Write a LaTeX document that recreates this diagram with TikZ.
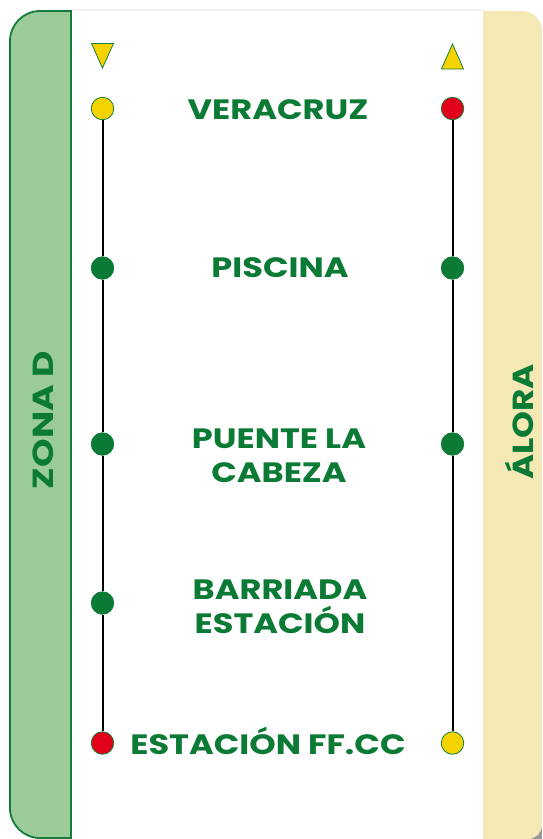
\documentclass[tikz,border=0pt]{standalone}
\usepackage{fontspec}
\setmainfont{Poppins}
\definecolor{dgreen}{RGB}{10,122,53}
\definecolor{lgreen}{RGB}{154,203,152}
\definecolor{pgreen}{RGB}{20,125,60}
\definecolor{beige}{RGB}{244,232,180}
\definecolor{myyellow}{RGB}{245,211,0}
\definecolor{myred}{RGB}{227,0,27}
\definecolor{shadow}{RGB}{150,150,150}
\begin{document}
\begin{tikzpicture}[x=1pt,y=-1pt,
  lbl/.style={text=dgreen,font=\bfseries\fontsize{28}{34}\selectfont,align=center,anchor=base,xscale=1.2},
  stop/.style={circle,draw=pgreen,line width=0.8pt,minimum size=22.5pt,inner sep=0pt},
  tri/.style={draw=pgreen,line width=0.8pt,fill=myyellow,line join=miter},
  side/.style={text=dgreen,font=\bfseries\fontsize{29}{34}\selectfont,rotate=90}]
\useasboundingbox (0,0) rectangle (542,839);
\fill[white] (0,0) rectangle (542,839);
% top shadow line
\fill[black!6] (71,9) rectangle (483,11);
% right panel
\fill[shadow] (510,810) rectangle (542,839);
\fill[beige] (483,11) -- (522,11) arc[start angle=270,end angle=360,radius=20] -- (542,825) arc[start angle=0,end angle=90,radius=14] -- (483,839) -- cycle;
% left panel
\draw[pgreen,fill=lgreen,line width=1.8pt] (71,840) -- (71,11) -- (40,11) arc[start angle=270,end angle=180,radius=30] -- (10,808) arc[start angle=180,end angle=90,radius=30] -- (71,838);
\node[side,xscale=1.25] (zona) at (43,420) {ZONA D};
\node[side,xscale=1.18] (alora) at (519,422) {ÁLORA};
% triangles
\draw[tri] (91.5,43.5) -- (113.5,43.5) -- (102.5,68) -- cycle;
\draw[tri] (441.5,69) -- (463.5,69) -- (452.5,44) -- cycle;
% stops
\node[stop,fill=myyellow] (l1) at (102.5,108.5) {};
\node[stop,fill=dgreen] (l2) at (102.5,268) {};
\node[stop,fill=dgreen] (l3) at (102.5,444) {};
\node[stop,fill=dgreen] (l4) at (102.5,603) {};
\node[stop,fill=myred] (l5) at (102.5,743) {};
\node[stop,fill=myred] (r1) at (452.5,108.5) {};
\node[stop,fill=dgreen] (r2) at (452.5,268) {};
\node[stop,fill=dgreen] (r3) at (452.5,444) {};
\node[stop,fill=myyellow] (r5) at (452.5,743) {};
\draw[black,line width=2pt] (l1.south) -- (l2.north) (l2.south) -- (l3.north) (l3.south) -- (l4.north) (l4.south) -- (l5.north);
\draw[black,line width=2pt] (r1.south) -- (r2.north) (r2.south) -- (r3.north) (r3.south) -- (r5.north);
% labels
\node[lbl] (s1) at (278,119) {VERACRUZ};
\node[lbl] (s2) at (280,277) {PISCINA};
\node[lbl] (s3) at (279,482) {PUENTE LA\\CABEZA};
\node[lbl] (s4) at (280,633) {BARRIADA\\ESTACIÓN};
\node[lbl] (s5) at (268,754) {ESTACIÓN FF.CC};
\end{tikzpicture}
\end{document}
